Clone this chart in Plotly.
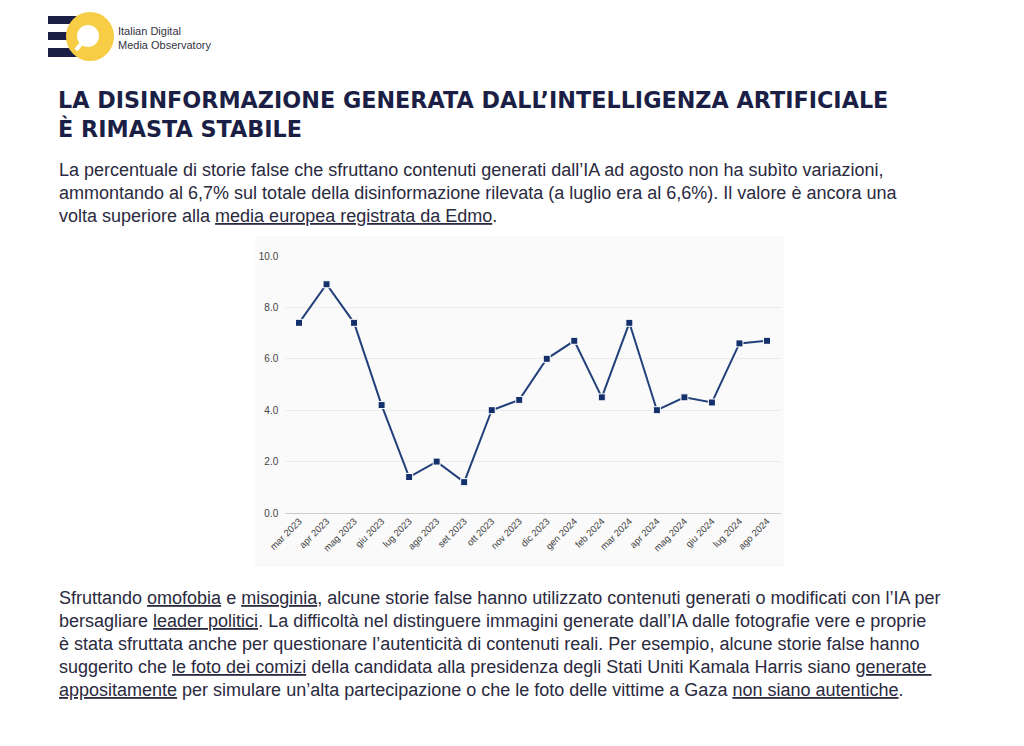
import plotly.graph_objects as go

W, H = 1024, 746

months = ["mar 2023", "apr 2023", "mag 2023", "giu 2023", "lug 2023", "ago 2023",
          "set 2023", "ott 2023", "nov 2023", "dic 2023", "gen 2024", "feb 2024",
          "mar 2024", "apr 2024", "mag 2024", "giu 2024", "lug 2024", "ago 2024"]
values = [7.4, 8.9, 7.4, 4.2, 1.4, 2.0, 1.2, 4.0, 4.4, 6.0, 6.7, 4.5,
          7.4, 4.0, 4.5, 4.3, 6.6, 6.7]
y_ticks = [0, 2, 4, 6, 8, 10]

title_lines = ["LA DISINFORMAZIONE GENERATA DALL’INTELLIGENZA ARTIFICIALE",
               "È RIMASTA STABILE"]

U = "<span style='text-decoration:underline'>{}</span>"
intro_lines = [
    "La percentuale di storie false che sfruttano contenuti generati dall’IA ad agosto non ha subìto variazioni,",
    "ammontando al 6,7% sul totale della disinformazione rilevata (a luglio era al 6,6%). Il valore è ancora una",
    "volta superiore alla " + U.format("media europea registrata da Edmo") + ".",
]
outro_lines = [
    "Sfruttando " + U.format("omofobia") + " e " + U.format("misoginia")
    + ", alcune storie false hanno utilizzato contenuti generati o modificati con l’IA per",
    "bersagliare " + U.format("leader politici")
    + ". La difficoltà nel distinguere immagini generate dall’IA dalle fotografie vere e proprie",
    "è stata sfruttata anche per questionare l’autenticità di contenuti reali. Per esempio, alcune storie false hanno",
    "suggerito che " + U.format("le foto dei comizi")
    + " della candidata alla presidenza degli Stati Uniti Kamala Harris siano " + U.format("generate&nbsp;"),
    U.format("appositamente") + " per simulare un’alta partecipazione o che le foto delle vittime a Gaza "
    + U.format("non siano autentiche") + ".",
]


def X(px):
    return px / W


def Y(py):
    return 1 - py / H


NAVY = "#1b1f45"
TEXT = "#2a2a40"

fig = go.Figure()
fig.add_trace(go.Scatter(
    x=months, y=values, mode="lines+markers",
    line=dict(color="#22407a", width=2),
    marker=dict(symbol="square", size=7, color="#14306b",
                line=dict(color="white", width=1)),
    hoverinfo="x+y", showlegend=False,
))

shapes = []
# chart panel background
shapes.append(dict(type="rect", xref="paper", yref="paper", layer="below",
                   x0=X(255), x1=X(784), y0=Y(567), y1=Y(236),
                   fillcolor="#fafafa", line=dict(width=0)))
# logo stripes
for y0, y1 in [(16, 24), (32, 40), (48, 57)]:
    shapes.append(dict(type="rect", xref="paper", yref="paper",
                       x0=X(48), x1=X(82), y0=Y(y1), y1=Y(y0),
                       fillcolor=NAVY, line=dict(width=0)))
# logo yellow circle
shapes.append(dict(type="circle", xref="paper", yref="paper",
                   x0=X(66), x1=X(114), y0=Y(61), y1=Y(12),
                   fillcolor="#f6cd45", line=dict(width=0)))
# inner white circle
shapes.append(dict(type="circle", xref="paper", yref="paper",
                   x0=X(77), x1=X(99), y0=Y(47), y1=Y(25),
                   fillcolor="white", line=dict(width=0)))
# handle
shapes.append(dict(type="line", xref="paper", yref="paper",
                   x0=X(81), y0=Y(44), x1=X(76), y1=Y(50),
                   line=dict(color="white", width=4)))

annotations = []
annotations.append(dict(text="Italian Digital", x=X(116), y=Y(31), xref="paper", yref="paper",
                        xanchor="left", yanchor="middle", showarrow=False,
                        font=dict(family="Liberation Sans", size=11, color="#333344")))
annotations.append(dict(text="Media Observatory", x=X(116), y=Y(45), xref="paper", yref="paper",
                        xanchor="left", yanchor="middle", showarrow=False,
                        font=dict(family="Liberation Sans", size=11, color="#333344")))

for i, t in enumerate(title_lines):
    annotations.append(dict(text=t, x=X(56), y=Y(100 + 28 * i), xref="paper", yref="paper",
                            xanchor="left", yanchor="middle", showarrow=False,
                            font=dict(family="DejaVu Sans", size=22.3, color=NAVY, weight=900)))

for i, t in enumerate(intro_lines):
    annotations.append(dict(text=t, x=X(57), y=Y(170 + 23 * i), xref="paper", yref="paper",
                            xanchor="left", yanchor="middle", showarrow=False,
                            font=dict(family="Liberation Sans", size=18, color=TEXT)))

for i, t in enumerate(outro_lines):
    annotations.append(dict(text=t, x=X(57), y=Y(598 + 23 * i), xref="paper", yref="paper",
                            xanchor="left", yanchor="middle", showarrow=False,
                            font=dict(family="Liberation Sans", size=18, color=TEXT)))

fig.update_layout(
    width=W, height=H, autosize=False,
    margin=dict(l=0, r=0, t=0, b=0, pad=0, autoexpand=False),
    paper_bgcolor="white", plot_bgcolor="rgba(0,0,0,0)",
    shapes=shapes, annotations=annotations,
    xaxis=dict(domain=[X(285.25), X(780.75)], type="category", range=[-0.5, 17.5],
               tickangle=-45, showgrid=False, showline=False, ticks="", automargin=False,
               tickfont=dict(family="Liberation Sans", size=9.5, color="#444444")),
    yaxis=dict(domain=[Y(513), Y(256)], range=[0, 10], tickvals=y_ticks,
               tickformat=".1f", showgrid=True, gridcolor="#ebebeb", gridwidth=1,
               zeroline=True, zerolinecolor="#cccccc", zerolinewidth=1, automargin=False,
               showline=False, ticks="", ticklabelstandoff=6,
               tickfont=dict(family="Liberation Sans", size=10, color="#444444")),
    font=dict(family="Liberation Sans"),
)

fig.write_html("out.html")
